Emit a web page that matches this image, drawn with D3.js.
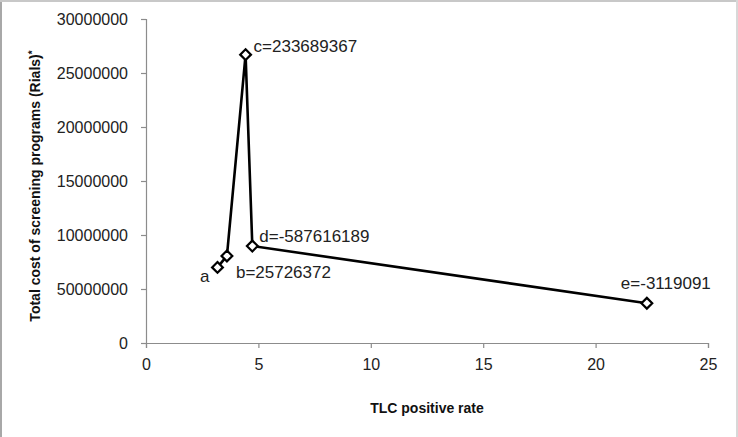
<!DOCTYPE html>
<html>
<head>
<meta charset="utf-8">
<script src="https://cdn.jsdelivr.net/npm/d3@7"></script>
<style>
  body { margin: 0; background: #fff; }
  svg { display: block; font-family: "Liberation Sans", Arial, sans-serif; }
  .axis path, .axis line { stroke: #8c8c8c; stroke-width: 1.2px; }
  .axis text { fill: #222; font-size: 16px; }
  .axis-title { font-weight: bold; font-size: 14px; fill: #111; }
  .pt-label { font-size: 17px; fill: #222; }
</style>
</head>
<body>
<script>
// data
const pointNames = ['a', 'b', 'c', 'd', 'e'];
const tlcRate = [3.18, 3.6, 4.43, 4.73, 22.28];
const totalCost = [7000000, 8060000, 26700000, 8980000, 3680000];
const pointLabels = ['a', 'b=25726372', 'c=233689367', 'd=-587616189', 'e=-3119091'];
const xTicks = [0, 5, 10, 15, 20, 25];
const yTicks = [0, 5000000, 10000000, 15000000, 20000000, 25000000, 30000000];
// tick labels as printed on the original (the second one really says 50000000)
const yTickLabels = ['0', '50000000', '10000000', '15000000', '20000000', '25000000', '30000000'];

// label placement next to each marker (styling only)
const labelPlace = {
    a: { dx: -8, dy: 15, anchor: 'end' },
    b: { dx: 9, dy: 22, anchor: 'start' },
    c: { dx: 8, dy: -3, anchor: 'start' },
    d: { dx: 7, dy: -4, anchor: 'start' },
    e: { dx: 19, dy: -14, anchor: 'middle' }
};

const W = 738, H = 437;
const svg = d3.select('body').append('svg')
    .attr('width', W)
    .attr('height', H);

// frame: left, top and right edges only
svg.append('line').attr('x1', 1).attr('x2', 1).attr('y1', 0).attr('y2', H)
    .attr('stroke', '#a8a8a8').attr('stroke-width', 2);
svg.append('line').attr('x1', 0).attr('x2', W).attr('y1', 1).attr('y2', 1)
    .attr('stroke', '#c8c8c8').attr('stroke-width', 2);
svg.append('line').attr('x1', W - 1).attr('x2', W - 1).attr('y1', 0).attr('y2', H)
    .attr('stroke', '#d8d8d8').attr('stroke-width', 2);

const xScale = d3.scaleLinear().domain([0, 25]).range([146, 708]);
const yScale = d3.scaleLinear().domain([0, 30000000]).range([343, 19]);

const xAxis = d3.axisBottom(xScale)
    .tickValues(xTicks)
    .tickFormat(d3.format('d'))
    .tickSizeOuter(0)
    .tickSize(5)
    .tickPadding(17);

const yAxis = d3.axisLeft(yScale)
    .tickValues(yTicks)
    .tickFormat((d, i) => yTickLabels[i])
    .tickSizeOuter(0)
    .tickSize(5)
    .tickPadding(13);

svg.append('g')
    .attr('class', 'axis')
    .attr('transform', `translate(0,${yScale(0)})`)
    .call(xAxis)
    .call(g => g.selectAll('text').attr('dy', '0.32em'));

svg.append('g')
    .attr('class', 'axis')
    .attr('transform', `translate(${xScale(0)},0)`)
    .call(yAxis);

// axis titles
svg.append('text')
    .attr('class', 'axis-title')
    .attr('x', (xScale.range()[0] + xScale.range()[1]) / 2)
    .attr('y', 413)
    .attr('text-anchor', 'middle')
    .text('TLC positive rate');

const yTitle = svg.append('text')
    .attr('class', 'axis-title')
    .attr('transform', 'translate(40,186) rotate(-90)')
    .attr('text-anchor', 'middle');
yTitle.append('tspan').text('Total cost of screening programs (Rials)');
yTitle.append('tspan').attr('dy', '-0.45em').attr('font-size', '10px').text('*');

// the line and its markers
const rows = pointNames.map((n, i) => ({ name: n, x: tlcRate[i], y: totalCost[i], label: pointLabels[i] }));

const line = d3.line()
    .x(d => xScale(d.x))
    .y(d => yScale(d.y));

svg.append('path')
    .datum(rows)
    .attr('d', line)
    .attr('fill', 'none')
    .attr('stroke', '#000')
    .attr('stroke-width', 2.6)
    .attr('stroke-linejoin', 'round');

const diamond = d3.symbol().type(d3.symbolDiamond2).size(74);

svg.selectAll('.marker')
    .data(rows)
    .enter().append('path')
    .attr('class', 'marker')
    .attr('transform', d => `translate(${xScale(d.x)},${yScale(d.y)})`)
    .attr('d', diamond)
    .attr('fill', '#fff')
    .attr('stroke', '#000')
    .attr('stroke-width', 2.2);

svg.selectAll('.pt-label')
    .data(rows)
    .enter().append('text')
    .attr('class', 'pt-label')
    .attr('x', d => xScale(d.x) + labelPlace[d.name].dx)
    .attr('y', d => yScale(d.y) + labelPlace[d.name].dy)
    .attr('text-anchor', d => labelPlace[d.name].anchor)
    .text(d => d.label);
</script>
</body>
</html>
